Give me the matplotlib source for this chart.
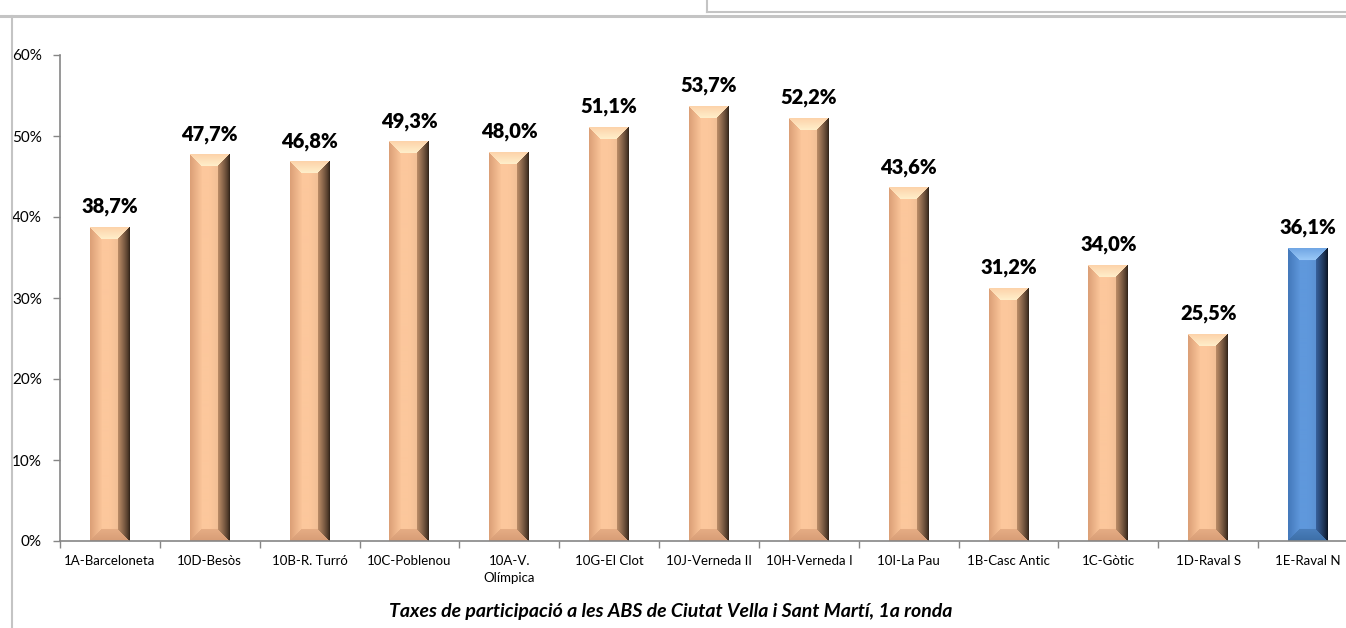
import numpy as np
import matplotlib
matplotlib.use("Agg")
import matplotlib.pyplot as plt
from matplotlib.lines import Line2D

# dades
categories = ['1A-Barceloneta', '10D-Besòs', '10B-R. Turró', '10C-Poblenou',
              '10A-V.\nOlímpica', '10G-El Clot', '10J-Verneda II', '10H-Verneda I',
              '10I-La Pau', '1B-Casc Antic', '1C-Gòtic', '1D-Raval S', '1E-Raval N']
values = [38.7, 47.7, 46.8, 49.3, 48.0, 51.1, 53.7, 52.2, 43.6, 31.2, 34.0, 25.5, 36.1]
highlight = ['1E-Raval N']
title = 'Taxes de participació a les ABS de Ciutat Vella i Sant Martí, 1a ronda'

plt.rcParams['font.family'] = ['Lato', 'DejaVu Sans']

W, H = 1346, 628
fig = plt.figure(figsize=(W / 100, H / 100), dpi=100)
ax = fig.add_axes([60 / W, 87 / H, 1298 / W, 486 / H])


def hexrgb(h):
    h = h.lstrip('#')
    return np.array([int(h[i:i + 2], 16) / 255 for i in (0, 2, 4)])


def bevel_image(hpx, wpx, face, top, bottom, left, right, edge):
    # imatge RGB amb efecte de bisell (estil Excel)
    face, top, bottom, left, right, edge = map(hexrgb, (face, top, bottom, left, right, edge))
    img = np.zeros((hpx, wpx, 3))
    b = 12
    cols = np.arange(wpx)
    t = cols / (wpx - 1)
    prof = np.outer(1 - 0.10 * np.clip((t - 0.5) / 0.5, 0, 1), face)
    for r in range(hpx):
        img[r] = prof[:]
        dt = r
        db = hpx - 1 - r
        for c in range(wpx):
            dl = c
            dr = wpx - 1 - c
            m = min(dt, db, dl, dr)
            if m >= b:
                continue
            if m == dr:
                f = (dr / b) ** 0.8
                img[r, c] = edge * (1 - f) + right * f
            elif m == dt:
                f = dt / b
                img[r, c] = top * f + face * (1 - f) * 0.7 + top * (1 - f) * 0.3
            elif m == db:
                f = db / b
                img[r, c] = bottom * (1 - f) + face * f * 0.4 + bottom * f * 0.6
            else:
                f = dl / b
                img[r, c] = left * (1 - f) + face * f
    return np.clip(img, 0, 1)


bars = ax.bar(range(len(values)), [v / 100 for v in values], width=0.4,
              color='none', edgecolor='none', zorder=2)

for cat, bar in zip(categories, bars):
    x0, y0 = bar.get_x(), bar.get_y()
    bw, bh = bar.get_width(), bar.get_height()
    hpx = max(int(round(bh / 0.6 * 486)), 26)
    if cat in highlight:
        img = bevel_image(hpx, 40, '#5f98dc', '#9ccaf8', '#3d6fa8', '#4479bb', '#3a64a0', '#0c1626')
    else:
        img = bevel_image(hpx, 40, '#fcc79c', '#fff0cc', '#d89d76', '#dca077', '#c0906a', '#35261b')
    ax.imshow(img, extent=(x0, x0 + bw, y0, y0 + bh), aspect='auto',
              interpolation='bilinear', zorder=2)

ax.set_xlim(-0.5, len(values) - 0.5)
ax.set_ylim(0, 0.6)

for bar, v in zip(bars, values):
    ax.annotate(f'{v:.1f}%'.replace('.', ','),
                (bar.get_x() + bar.get_width() / 2, bar.get_height()),
                xytext=(0, 8), textcoords='offset points', ha='center', va='bottom',
                fontsize=14.5, fontweight='heavy', color='black')

# eixos
yt = np.arange(0, 0.61, 0.1)
ax.set_yticks(yt)
ax.set_yticklabels([f'{int(round(t * 100))}%' for t in yt], fontsize=11)
ax.set_xticks(range(len(categories)))
ax.set_xticklabels(categories, fontsize=9.5, linespacing=1.5)
ax.set_xticks(np.arange(-0.5, len(categories), 1), minor=True)
ax.tick_params(axis='x', which='major', length=0, pad=10)
ax.tick_params(axis='x', which='minor', length=5, width=1, color='#868686', direction='out')
ax.tick_params(axis='y', length=5, width=1, color='#868686', direction='out', pad=8)
for s in ['top', 'right']:
    ax.spines[s].set_visible(False)
for s in ['left', 'bottom']:
    ax.spines[s].set_color('#868686')
    ax.spines[s].set_linewidth(1.2)

# marc
fc = '#c4c4c4'
fig.add_artist(Line2D([0, 1], [1 - 16 / H, 1 - 16 / H], color=fc, lw=2.2))
fig.add_artist(Line2D([12 / W, 12 / W], [0, 1 - 16 / H], color=fc, lw=1.5))
fig.add_artist(Line2D([707 / W, 1], [1 - 12 / H, 1 - 12 / H], color=fc, lw=1.5))
fig.add_artist(Line2D([707 / W, 707 / W], [1 - 12 / H, 1], color=fc, lw=1.5))

fig.text(671 / W, 1 - 612 / H, title, ha='center', va='center',
         fontsize=14, fontweight='bold', fontstyle='italic')

fig.savefig('out.png', dpi=100)
